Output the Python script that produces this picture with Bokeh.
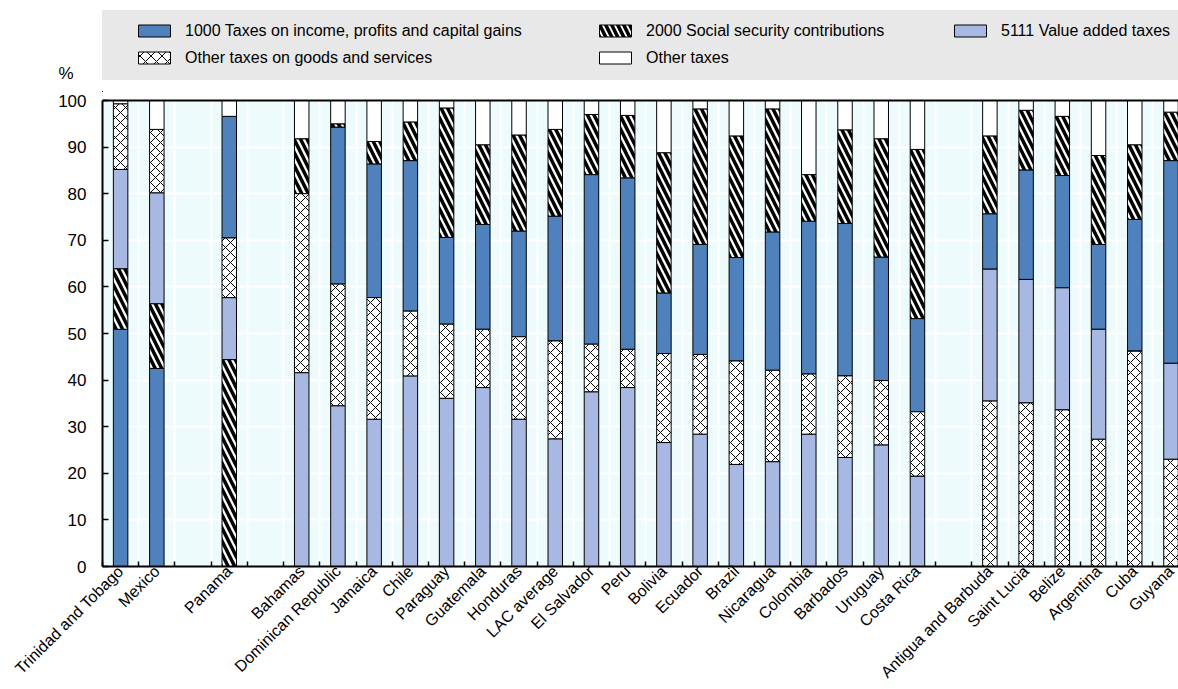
import math
from bokeh.plotting import figure
from bokeh.layouts import column
from bokeh.models import (Range1d, FixedTicker, LinearAxis, Legend, LegendItem,
                          ColumnDataSource)
from bokeh.embed import file_html
from bokeh.resources import INLINE

# ---------------- data ----------------
countries = ["Trinidad and Tobago", "Mexico", "Panama", "Bahamas", "Dominican Republic",
             "Jamaica", "Chile", "Paraguay", "Guatemala", "Honduras", "LAC average",
             "El Salvador", "Peru", "Bolivia", "Ecuador", "Brazil", "Nicaragua",
             "Colombia", "Barbados", "Uruguay", "Costa Rica", "Antigua and Barbuda",
             "Saint Lucia", "Belize", "Argentina", "Cuba", "Guyana"]
stack_group = ["income", "income", "social",
               "vat", "vat", "vat", "vat", "vat", "vat", "vat", "vat", "vat", "vat",
               "vat", "vat", "vat", "vat", "vat", "vat", "vat", "vat",
               "goods", "goods", "goods", "goods", "goods", "goods"]
income = [50.9, 42.5, 26.1, 0.0, 33.7, 28.7, 32.3, 18.6, 22.5, 22.7, 26.8, 36.4, 36.8,
          13.0, 23.6, 22.2, 29.7, 32.8, 32.7, 26.5, 20.0, 11.9, 23.5, 24.1, 18.2, 28.3, 43.5]
social = [13.0, 13.9, 44.4, 11.8, 0.7, 4.8, 8.3, 27.8, 17.1, 20.6, 18.6, 12.9, 13.4,
          30.1, 29.1, 26.1, 26.4, 10.0, 20.1, 25.4, 36.3, 16.7, 12.8, 12.7, 19.1, 16.0, 10.4]
vat = [21.3, 23.8, 13.3, 41.6, 34.5, 31.6, 40.9, 36.1, 38.4, 31.6, 27.4, 37.5, 38.4,
       26.6, 28.4, 21.9, 22.5, 28.4, 23.4, 26.1, 19.4, 28.3, 26.5, 26.2, 23.6, 0.0, 20.6]
goods = [14.1, 13.6, 12.8, 38.4, 26.1, 26.1, 13.9, 15.9, 12.5, 17.7, 21.0, 10.2, 8.2,
         19.1, 17.1, 22.2, 19.6, 12.9, 17.5, 13.8, 13.8, 35.5, 35.1, 33.6, 27.3, 46.2, 23.0]
other = [0.7, 6.2, 3.4, 8.2, 5.0, 8.8, 4.6, 1.6, 9.5, 7.4, 6.2, 3.0, 3.2,
         11.2, 1.8, 7.6, 1.8, 15.9, 6.3, 8.2, 10.5, 7.6, 2.1, 3.4, 11.8, 9.5, 2.5]
y_ticks = [0, 10, 20, 30, 40, 50, 60, 70, 80, 90, 100]
unit_label = "%"

series_labels = {
    "income": "1000 Taxes on income, profits and capital gains",
    "social": "2000 Social security contributions",
    "vat": "5111 Value added taxes",
    "goods": "Other taxes on goods and services",
    "other": "Other taxes",
}
stack_orders = {
    "income": ["income", "social", "vat", "goods", "other"],
    "social": ["social", "vat", "goods", "income", "other"],
    "vat": ["vat", "goods", "income", "social", "other"],
    "goods": ["goods", "vat", "income", "social", "other"],
}
values = {"income": income, "social": social, "vat": vat, "goods": goods, "other": other}

# ---------------- styling ----------------
FONT = "Liberation Sans"
FS = "16px"
FS_Y = "17px"
BLUE = "#4F81BD"
LIGHT = "#A7B9E3"
BG = "#EEFBFC"
BAND = "#E8E8E8"

styles = {
    "income": dict(fill_color=BLUE),
    "social": dict(fill_color="white", hatch_pattern="\\", hatch_color="black",
                   hatch_scale=13, hatch_weight=3.5),
    "vat": dict(fill_color=LIGHT),
    "goods": dict(fill_color="white", hatch_pattern="x", hatch_color="black",
                  hatch_scale=10, hatch_weight=1),
    "other": dict(fill_color="white"),
}
legend_styles = dict(styles)
legend_styles["social"] = dict(fill_color="white", hatch_pattern="\\", hatch_color="black",
                               hatch_scale=12, hatch_weight=3.5)
legend_styles["goods"] = dict(fill_color="white", hatch_pattern="x", hatch_color="black",
                              hatch_scale=11, hatch_weight=1)

# positions: one empty slot between stacking groups
positions = []
pos = 0
prev = None
for g in stack_group:
    if prev is not None and g != prev:
        pos += 1
    positions.append(pos)
    pos += 1
    prev = g
n_slots = pos

# stacked bottoms / tops
bottoms = {k: [] for k in values}
tops = {k: [] for k in values}
for i, g in enumerate(stack_group):
    acc = 0.0
    for k in stack_orders[g]:
        v = values[k][i]
        bottoms[k].append(acc)
        acc += v
        tops[k].append(acc)

W = 1178
LEFT = 102
TOP_H = 92

# ---------------- legend strip (top figure) ----------------
lf = figure(width=W, height=TOP_H, output_backend="svg", toolbar_location=None,
            x_axis_type=None, y_axis_type=None,
            min_border_left=LEFT, min_border_right=0, min_border_top=0, min_border_bottom=0,
            x_range=Range1d(LEFT, W), y_range=Range1d(0, TOP_H))
lf.outline_line_color = None
lf.background_fill_color = "white"
lf.border_fill_color = "white"
lf.xgrid.visible = False
lf.ygrid.visible = False

# unit label "%" as the tick label of a bare left axis
unit_axis = LinearAxis(ticker=FixedTicker(ticks=[19]), major_label_overrides={19: unit_label},
                       axis_line_color=None, major_tick_line_color=None,
                       minor_tick_line_color=None, major_tick_out=0, major_tick_in=0,
                       major_label_standoff=29, major_label_text_font=FONT,
                       major_label_text_font_size=FS_Y, major_label_text_color="black")
lf.add_layout(unit_axis, "left")

band_r = lf.vbar(x=[], top=[], width=1, fill_alpha=0, line_alpha=0)
band = Legend(items=[LegendItem(label=" ", renderers=[band_r])], location=(-2, 12),
              padding=0, spacing=0, glyph_width=10, glyph_height=70, label_height=70,
              label_width=1100, label_standoff=0, background_fill_color=BAND,
              background_fill_alpha=1, border_line_color=None)
lf.add_layout(band)

# legend proxies (one point each, kept outside the visible strip)
leg_r = {}
for k in ["income", "social", "vat", "goods", "other"]:
    leg_r[k] = lf.vbar(x=[-1000], bottom=[0], top=[1], width=1, line_color="black",
                       line_width=1, **legend_styles[k])

def make_legend(keys, loc):
    lg = Legend(items=[LegendItem(label=series_labels[k], renderers=[leg_r[k]]) for k in keys],
                location=loc, padding=0, spacing=6, glyph_width=40, glyph_height=15,
                label_height=21, label_standoff=11, background_fill_alpha=0,
                border_line_color=None, label_text_font=FONT, label_text_font_size=FS,
                label_text_color="black")
    lf.add_layout(lg)

make_legend(["income", "goods"], (134 - LEFT, 24))
make_legend(["social", "other"], (595 - LEFT, 24))
make_legend(["vat"], (950 - LEFT, 51))

# ---------------- main chart ----------------
slot_px = 36.22
frame_w = W - LEFT
p = figure(width=W, height=689 - TOP_H, output_backend="svg", toolbar_location=None,
           x_range=Range1d(-0.5, -0.5 + frame_w / slot_px), y_range=Range1d(0, 100),
           min_border_left=LEFT, min_border_right=0, min_border_top=8, min_border_bottom=122)
p.background_fill_color = BG
p.border_fill_color = "white"
p.outline_line_color = None

for k in ["income", "social", "vat", "goods", "other"]:
    src = ColumnDataSource(dict(x=positions, bottom=bottoms[k], top=tops[k]))
    p.vbar(x="x", bottom="bottom", top="top", width=0.4, source=src,
           line_color="black", line_width=1, **styles[k])

xt = FixedTicker(ticks=positions, minor_ticks=[i - 0.5 for i in range(n_slots + 1)])
xa = p.xaxis[0]
xa.ticker = xt
xa.major_label_overrides = {x: c for x, c in zip(positions, countries)}
xa.major_label_orientation = math.pi / 4
xa.major_tick_line_color = None
xa.major_tick_in = 0
xa.major_tick_out = 0
xa.minor_tick_line_color = "black"
xa.minor_tick_in = 5
xa.minor_tick_out = 0
xa.minor_tick_line_width = 1.5
xa.axis_line_color = "black"
xa.axis_line_width = 2
xa.major_label_text_font = FONT
xa.major_label_text_font_size = FS
xa.major_label_text_color = "black"
xa.major_label_standoff = 2

ya = p.yaxis[0]
ya.ticker = FixedTicker(ticks=y_ticks)
ya.major_tick_in = 6
ya.major_tick_out = 0
ya.major_tick_line_width = 1.5
ya.minor_tick_line_color = None
ya.axis_line_width = 2
ya.major_label_text_font = FONT
ya.major_label_text_font_size = FS_Y
ya.major_label_text_color = "black"
ya.major_label_standoff = 16

top_axis = LinearAxis(ticker=FixedTicker(ticks=[]), axis_line_width=2,
                      major_tick_line_color=None, minor_tick_line_color=None,
                      major_tick_in=0, major_tick_out=0, major_label_standoff=0,
                      major_label_text_font_size="0px")
p.add_layout(top_axis, "above")

p.xgrid.ticker = xt
p.xgrid.grid_line_color = None
p.xgrid.minor_grid_line_color = "white"
p.xgrid.minor_grid_line_width = 2
p.ygrid.grid_line_color = "white"
p.ygrid.grid_line_width = 2

layout = column(lf, p, spacing=0)
open("out.html", "w").write(file_html(layout, INLINE))
